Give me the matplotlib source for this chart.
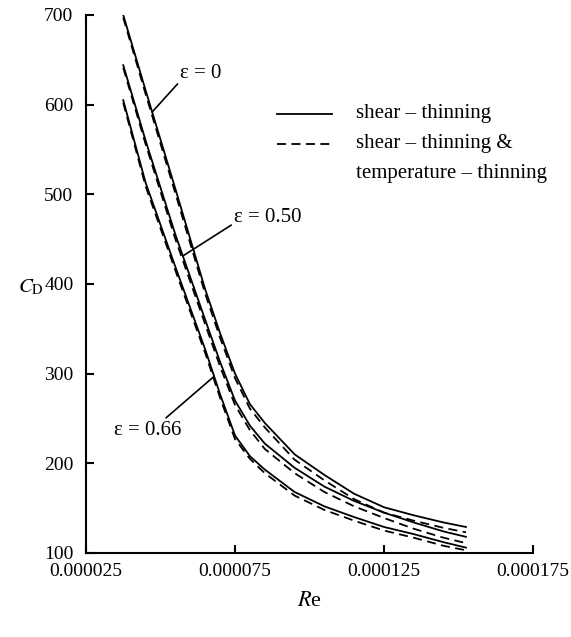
import matplotlib
matplotlib.use('Agg')
import matplotlib.pyplot as plt
import numpy as np

plt.rcParams['font.family'] = ['Liberation Serif', 'DejaVu Serif']
plt.rcParams['mathtext.fontset'] = 'stix'

# Re values shared by all curves
re = np.array([3.75, 4.5, 5.5, 6.5, 7.0, 7.5, 8.0, 8.5, 9.5, 10.5, 11.5,
               12.5, 13.5, 14.5, 15.25]) * 1e-5

# drag coefficient, shear-thinning only (solid)
cd_e0 = [700, 616, 506, 394, 345, 300, 266, 245, 210, 187, 166, 151, 142, 134, 129]
cd_e050 = [644, 560, 455, 360, 313, 270, 242, 222, 195, 174, 158, 145, 134, 124, 118]
cd_e066 = [605, 513, 419, 327, 277, 231, 208, 193, 168, 152, 140, 129, 121, 112, 106]

# shear-thinning & temperature-thinning (dashed)
cd_e0_t = [697, 612, 501, 389, 340, 295, 261, 240, 204, 181, 160, 145, 136, 128, 123]
cd_e050_t = [641, 556, 450, 355, 308, 265, 237, 216, 189, 168, 152, 139, 127, 117, 111]
cd_e066_t = [602, 509, 415, 323, 273, 227, 205, 189, 164, 148, 136, 125, 117, 108, 103]

xticks = [0.000025, 0.000075, 0.000125, 0.000175]
xtick_labels = ['0.000025', '0.000075', '0.000125', '0.000175']
yticks = [100, 200, 300, 400, 500, 600, 700]

fig = plt.figure(figsize=(5.71, 6.37), dpi=100)
ax = fig.add_axes([0.1506, 0.1319, 0.7829, 0.8446])

for cd in (cd_e0, cd_e050, cd_e066):
    ax.plot(re, cd, color='black', lw=1.3, ls='-')
for cd in (cd_e0_t, cd_e050_t, cd_e066_t):
    ax.plot(re, cd, color='black', lw=1.3, ls=(0, (5, 3)))

ax.set_xlim(0.000025, 0.000175)
ax.set_ylim(100, 700)
ax.set_xticks(xticks)
ax.set_xticklabels(xtick_labels)
ax.set_yticks(yticks)
ax.tick_params(direction='in', length=6, width=1.5, labelsize=14, pad=7)
ax.tick_params(axis='y', pad=9)
for s in ('top', 'right'):
    ax.spines[s].set_visible(False)
for s in ('left', 'bottom'):
    ax.spines[s].set_linewidth(1.5)

ax.set_xlabel('$R$e', fontsize=16)
ax.xaxis.set_label_coords(0.5, -0.072)
ax.set_ylabel('$C_\\mathrm{D}$', fontsize=15, rotation=0)
ax.yaxis.set_label_coords(-0.122, 0.475)

# curve labels
line_kw = dict(arrowstyle='-', color='black', lw=1.2, shrinkA=0, shrinkB=0)
x0 = 4.72e-5
ax.annotate('ε = 0', xy=(x0, np.interp(x0, re, cd_e0)), xytext=(6.36e-5, 635),
            fontsize=15, ha='center', va='center',
            arrowprops=dict(relpos=(0.0, 0.1), **line_kw))
x1 = 5.75e-5
ax.annotate('ε = 0.50', xy=(x1, np.interp(x1, re, cd_e050)), xytext=(8.6e-5, 474),
            fontsize=15, ha='center', va='center',
            arrowprops=dict(relpos=(0.0, 0.2), **line_kw))
x2 = 6.8e-5
ax.annotate('ε = 0.66', xy=(x2, np.interp(x2, re, cd_e066)), xytext=(4.58e-5, 237),
            fontsize=15, ha='center', va='center',
            arrowprops=dict(relpos=(0.72, 1.0), **line_kw))

# legend drawn by hand so the dashed sample sits on the first text line
tr = ax.transAxes
ax.plot([0.427, 0.55], [0.816, 0.816], color='black', lw=1.3, transform=tr)
ax.plot([0.427, 0.55], [0.761, 0.761], color='black', lw=1.3, ls=(0, (5, 3)), transform=tr)
ax.text(0.604, 0.816, 'shear – thinning', transform=tr, fontsize=15, va='center')
ax.text(0.604, 0.761, 'shear – thinning &', transform=tr, fontsize=15, va='center')
ax.text(0.604, 0.705, 'temperature – thinning', transform=tr, fontsize=15, va='center')

fig.savefig('out.png', dpi=100)
